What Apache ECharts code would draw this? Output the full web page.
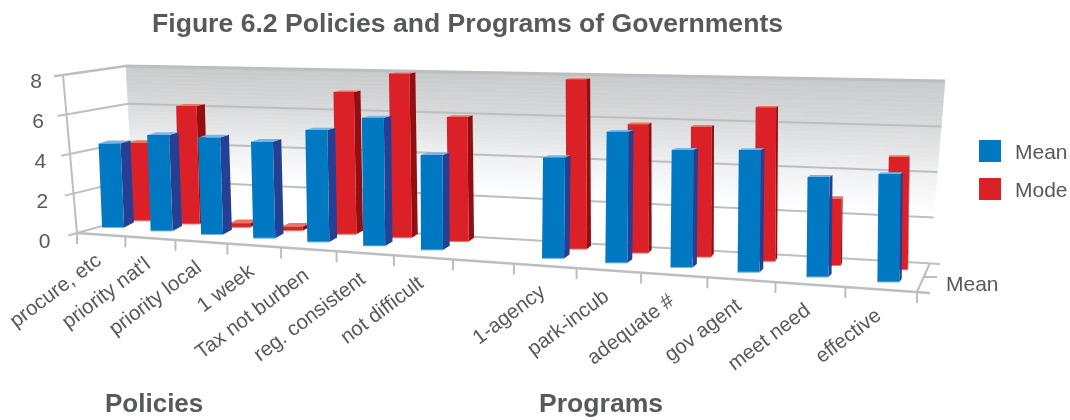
<!DOCTYPE html>
<html>
<head>
<meta charset="utf-8">
<title>Figure 6.2</title>
<script src="https://cdn.jsdelivr.net/npm/echarts@6/dist/echarts.min.js"></script>
<style>
  html, body { margin: 0; padding: 0; background: #fff; }
  #main { width: 1070px; height: 420px; }
</style>
</head>
<body>
<div id="main"></div>
<script>
// data ('' is the gap between the two groups)
const categories = ['procure, etc', "priority nat'l", 'priority local', '1 week', 'Tax not burben',
  'reg. consistent', 'not difficult', '', '1-agency', 'park-incub', 'adequate #', 'gov agent', 'meet need', 'effective'];
const meanValues = [4.23, 4.79, 4.79, 4.72, 5.42, 6.14, 4.5, null, 4.68, 6.01, 5.33, 5.47, 4.43, 4.72];
const modeValues = [4, 6, 0.2, 0.2, 7, 8, 6, null, 8, 6, 6, 7, 3, 5];
const yTicks = [0, 2, 4, 6, 8];

const FONT = '"Liberation Sans", Arial, sans-serif';
const TEXT = '#58595B';
const LINE = '#BCBEC0';

// plot area of the hidden axes, api.coord results get warped into the 3d box below
const g = { left: 77, top: 82, width: 840, height: 160 };

// corners of the box on screen
const A = [77, 233], B = [917, 292];   // front floor
const C = [134, 217], D = [930, 263];  // back floor
const E = [63, 75], F = [920, 108];    // front top
const G = [126, 66], H = [945, 81];    // back top

function lerp(a, b, k) { return a + (b - a) * k; }
function mix(p, q, k) { return [lerp(p[0], q[0], k), lerp(p[1], q[1], k)]; }
// x stretches to the right, closer to the viewer
function stretch(t) { return 0.7905 * t + 0.2095 * t * t; }
function box(t, h, d) {
  const s = stretch(t);
  const front = mix(mix(A, B, s), mix(E, F, s), h);
  const back = mix(mix(C, D, s), mix(G, H, s), h);
  return mix(front, back, d);
}
function norm(api, i, v) {
  const p = api.coord([i, v]);
  return [(p[0] - g.left) / g.width, (g.top + g.height - p[1]) / g.height];
}
function edgeY(x) { return A[1] + (x - A[0]) * (B[1] - A[1]) / (B[0] - A[0]); }

function poly(points, fill) {
  return { type: 'polygon', shape: { points: points }, style: { fill: fill } };
}
function seg(p, q, w) {
  return { type: 'line', shape: { x1: p[0], y1: p[1], x2: q[0], y2: q[1] }, style: { stroke: LINE, lineWidth: w || 2 } };
}
function label(x, y, text, extra) {
  return Object.assign({
    type: 'text', x: x, y: y,
    style: Object.assign({ text: text, font: '21px ' + FONT, fill: TEXT, align: 'center', verticalAlign: 'middle' }, extra && extra.style)
  }, extra && extra.el);
}
function wallColor(h) {
  // white up to the 2 line, then grey towards the top
  const stops = [[0.25, 255], [0.5, 238], [0.75, 216], [1, 200]];
  let c = 255;
  for (let i = 1; i < stops.length; i++) {
    if (h >= stops[i - 1][0] && h <= stops[i][0]) {
      c = lerp(stops[i - 1][1], stops[i][1], (h - stops[i - 1][0]) / (stops[i][0] - stops[i - 1][0]));
    }
  }
  c = Math.round(c);
  return 'rgb(' + c + ',' + Math.min(255, c + 1) + ',' + Math.min(255, c + 3) + ')';
}

function renderFrame(params, api) {
  const kids = [];
  const band = api.size([1, 0])[0] / g.width;

  // back wall
  const strips = 30;
  for (let i = 0; i < strips; i++) {
    const h0 = lerp(1, 0.25, i / strips), h1 = lerp(1, 0.25, (i + 1) / strips);
    const c = wallColor((h0 + h1) / 2);
    const el = poly([box(0, h0, 1), box(1, h0, 1), box(1, h1, 1), box(0, h1, 1)], c);
    el.style.stroke = c;
    el.style.lineWidth = 0.5;
    kids.push(el);
  }

  yTicks.forEach(function (v) {
    const h = norm(api, 0, v)[1];
    const front = box(0, h, 0), back = box(0, h, 1);
    const len = Math.hypot(back[0] - front[0], back[1] - front[1]);
    const out = [front[0] - (back[0] - front[0]) / len * 9, front[1] - (back[1] - front[1]) / len * 9];
    kids.push(seg(out, back, v === 8 ? 2.5 : 2));
    kids.push(seg(back, v === 0 ? [940, 264] : box(1, h, 1), v === 8 ? 3 : 2));
    kids.push(label(front[0] - 27 - 5.5 * (1 - h), front[1] + 7 + 2 * (1 - h), String(v)));
  });

  // box edges
  kids.push(seg(E, A));
  kids.push(seg(A, [930, 292.9], 2.5));
  kids.push(seg(B, D));
  kids.push(seg([923, 277], [937, 277]));
  kids.push(seg(B, [917, 303]));
  kids.push(label(946, 285, 'Mean', { style: { align: 'left' } }));

  // ticks and rotated category labels on the front edge
  categories.forEach(function (name, i) {
    const t = norm(api, i, 0)[0];
    const p = box(t - band / 2, 0, 0);
    kids.push(seg(p, [p[0], p[1] + 11]));
    if (name) {
      const c = box(t, 0, 0);
      kids.push(label(c[0] - 2, c[1] + 24, name, {
        style: { align: 'right', font: '20.5px ' + FONT },
        el: { rotation: 37 * Math.PI / 180 }
      }));
    }
  });
  return { type: 'group', children: kids };
}

function bar(api, i, v, row, fills) {
  const t = norm(api, i, 0)[0], h = norm(api, i, v)[1];
  const s = stretch(t);
  const val = h * 8;
  const size = val * row.unit(s);
  const x = box(t, 0, 0)[0] + row.dx(s);
  const y = edgeY(x) - row.dy(s);
  const w = row.width;
  const top = x + row.lean(s) * size;
  const bl = [x - w / 2, y], br = [x + w / 2, y];
  const tl = [top - w / 2, y - size], tr = [top + w / 2, y - size];
  const depX = row.depX(s), depY = row.depY(s);
  const depTop = depY * (1 - 0.7 * h);
  const kids = [
    poly([br, [br[0] + depX, br[1] + depY], [tr[0] + depX, tr[1] + depTop], tr], fills.side),
    poly([tl, tr, [tr[0] + depX, tr[1] + depTop], [tl[0] + depX, tl[1] + depTop]], fills.cap),
    poly([bl, br, tr, tl], fills.face),
    { type: 'line', shape: { x1: bl[0], y1: bl[1], x2: br[0], y2: br[1] }, style: { stroke: fills.cap, lineWidth: 1 } }
  ];
  return { type: 'group', children: kids };
}

const meanRow = {
  width: 22,
  unit: function (s) { return lerp(19.75, 23, s); },
  dx: function (s) { return 12.5 - 12 * s + 7 * s * s; },
  dy: function () { return 8; },
  lean: function (s) { return Math.min(0.01, -0.045 + 0.1 * s); },
  depX: function (s) { return lerp(10, 2, s); },
  depY: function (s) { return lerp(-5, -3, s); }
};
const modeRow = {
  width: 20.5,
  unit: function (s) { return lerp(19.4, 22.7, s); },
  dx: function (s) { return 39.5 - 25 * s * s; },
  dy: function (s) { return lerp(16.5, 21, s); },
  lean: function (s) { return lerp(-0.03, 0.015, s); },
  depX: function (s) { return lerp(9, 0, s); },
  depY: function (s) { return lerp(-4, -3, s); }
};
const meanFills = { face: '#0079C2', side: '#243F94', cap: '#7DB4E6' };
const modeFills = { face: '#DC2027', side: '#940D10', cap: '#EF7360' };

function barSeries(name, values, row, fills, z) {
  return {
    name: name,
    type: 'custom',
    z: z,
    silent: true,
    clip: false,
    itemStyle: { color: fills.face },
    data: values,
    encode: { x: 0, y: 1 },
    renderItem: function (params, api) {
      const v = values[params.dataIndex];
      if (v === null) return null;
      return bar(api, params.dataIndex, v, row, fills);
    }
  };
}

const chart = echarts.init(document.getElementById('main'));
chart.setOption({
  animation: false,
  backgroundColor: '#fff',
  title: [
    { text: 'Figure 6.2 Policies and Programs of Governments', left: 152, top: 11, padding: 0,
      textStyle: { fontFamily: FONT, fontSize: 26.6, fontWeight: 'bold', color: TEXT } },
    { text: 'Policies', left: 105, top: 392, padding: 0,
      textStyle: { fontFamily: FONT, fontSize: 26, fontWeight: 'bold', color: TEXT } },
    { text: 'Programs', left: 539, top: 391, padding: 0,
      textStyle: { fontFamily: FONT, fontSize: 26.6, fontWeight: 'bold', color: TEXT } }
  ],
  legend: {
    data: ['Mean', 'Mode'],
    orient: 'vertical',
    left: 979,
    top: 140,
    padding: 0,
    itemWidth: 22,
    itemHeight: 22,
    itemGap: 14,
    icon: 'rect',
    selectedMode: false,
    formatter: '{t|{name}}',
    textStyle: {
      rich: { t: { fontFamily: FONT, fontSize: 21, color: TEXT, padding: [5, 0, 0, 9] } }
    }
  },
  grid: { left: g.left, top: g.top, width: g.width, height: g.height },
  xAxis: { type: 'category', data: categories, show: false },
  yAxis: { type: 'value', min: 0, max: 8, interval: 2, show: false },
  series: [
    { name: 'frame', type: 'custom', z: 1, silent: true, clip: false, data: [0], renderItem: renderFrame },
    barSeries('Mode', modeValues, modeRow, modeFills, 2),
    barSeries('Mean', meanValues, meanRow, meanFills, 3)
  ]
});
</script>
</body>
</html>
